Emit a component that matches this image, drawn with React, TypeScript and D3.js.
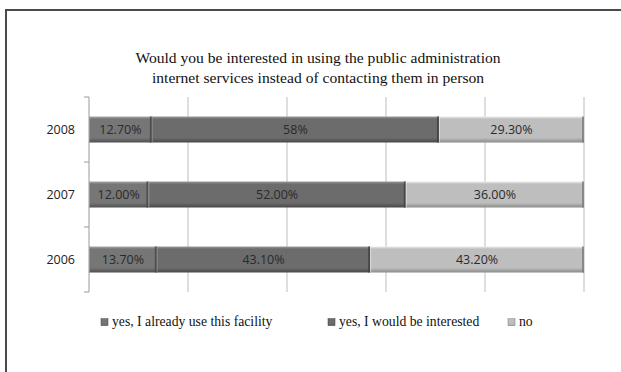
import React from "react";
import * as d3 from "d3";

const years = ["2008", "2007", "2006"];
const seriesNames = ["yes, I already use this facility", "yes, I would be interested", "no"];
const useFacility = [12.7, 12.0, 13.7];
const interested = [58, 52.0, 43.1];
const noValues = [29.3, 36.0, 43.2];
const useLabels = ["12.70%", "12.00%", "13.70%"];
const interestedLabels = ["58%", "52.00%", "43.10%"];
const noLabels = ["29.30%", "36.00%", "43.20%"];
const xTicks = [0, 20, 40, 60, 80, 100];
const titleLines = [
  "Would you be interested in using the public administration",
  "internet services instead of contacting them in person",
];

const W = 621;
const H = 372;

const palette = [
  { top: "#a8a8a8", mid: "#767676", bot: "#4e4e4e", edge: "#444" },
  { top: "#9a9a9a", mid: "#6c6c6c", bot: "#484848", edge: "#3e3e3e" },
  { top: "#ececec", mid: "#bebebe", bot: "#8a8a8a", edge: "#7a7a7a" },
];

export default function App() {
  const x = d3.scaleLinear().domain([0, 100]).range([89, 584]);
  const y = d3.scaleBand<string>().domain(years).range([97, 292]).paddingInner(0.6).paddingOuter(0.3);
  const stack = years.map((yr, i) => {
    const vals = [useFacility[i], interested[i], noValues[i]];
    const labels = [useLabels[i], interestedLabels[i], noLabels[i]];
    let acc = 0;
    return vals.map((v, k) => {
      const s = { year: yr, k, x0: acc, x1: acc + v, label: labels[k] };
      acc += v;
      return s;
    });
  });
  const bw = y.bandwidth();
  const bandStep = y.step();
  const boundaries = [97, ...years.map((yr) => (y(yr) as number) - bandStep * 0.3 + bandStep)];
  const legendX = [101, 328, 508];

  return (
    <svg width={W} height={H} style={{ position: "absolute", left: 0, top: 0, background: "#fff" }}>
      <defs>
        {palette.map((p, k) => (
          <linearGradient key={k} id={`g${k}`} x1="0" y1="0" x2="0" y2="1">
            <stop offset="0" stopColor={p.top} />
            <stop offset="0.1" stopColor={p.mid} />
            <stop offset="0.82" stopColor={p.mid} />
            <stop offset="1" stopColor={p.bot} />
          </linearGradient>
        ))}
      </defs>
      <rect x={0} y={0} width={W} height={H} fill="#fff" />
      <rect x={6} y={10} width={W + 20} height={H + 20} fill="none" stroke="#4a4a4a" strokeWidth={2} />
      <g fontFamily="'Liberation Serif', 'Times New Roman', serif" fontSize={15.6} fill="#111" textAnchor="middle">
        {titleLines.map((t, i) => (
          <text key={i} x={318} y={63 + i * 20}>
            {t}
          </text>
        ))}
      </g>
      {xTicks.slice(1).map((t) => (
        <line key={t} x1={x(t)} x2={x(t)} y1={97} y2={292} stroke="#bdbdbd" strokeWidth={1} />
      ))}
      <line x1={89} x2={89} y1={97} y2={292} stroke="#9a9a9a" strokeWidth={1} />
      {boundaries.map((b, i) => (
        <line key={i} x1={84} x2={89} y1={b} y2={b} stroke="#9a9a9a" strokeWidth={1} />
      ))}
      {stack.map((segs, i) =>
        segs.map((s) => {
          const x0 = x(s.x0);
          const x1 = x(s.x1);
          const yy = y(s.year) as number;
          const p = palette[s.k];
          return (
            <g key={`${i}-${s.k}`}>
              <rect x={x0} y={yy} width={x1 - x0} height={bw} fill={`url(#g${s.k})`} />
              <rect x={x1 - 2} y={yy} width={2} height={bw} fill={p.edge} opacity={0.8} />
              <rect x={x0} y={yy} width={1} height={bw} fill={p.top} opacity={0.6} />
              <text
                x={(x0 + x1) / 2}
                y={yy + bw / 2 + 4.5}
                textAnchor="middle"
                fontFamily="'Open Sans', 'Liberation Sans', sans-serif"
                fontSize={12.5}
                fill="#2a2a2a"
              >
                {s.label}
              </text>
            </g>
          );
        })
      )}
      {years.map((yr) => (
        <text
          key={yr}
          x={75}
          y={(y(yr) as number) + bw / 2 + 4.5}
          textAnchor="end"
          fontFamily="'Open Sans', 'Liberation Sans', sans-serif"
          fontSize={12.5}
          fill="#222"
        >
          {yr}
        </text>
      ))}
      {seriesNames.map((n, k) => (
        <g key={n}>
          <rect x={legendX[k]} y={318.5} width={7} height={7} fill={`url(#g${k})`} stroke={palette[k].edge} strokeWidth={0.5} />
          <text
            x={legendX[k] + 11}
            y={325.5}
            fontFamily="'Liberation Serif', 'Times New Roman', serif"
            fontSize={13.7}
            fill="#111"
          >
            {n}
          </text>
        </g>
      ))}
    </svg>
  );
}
